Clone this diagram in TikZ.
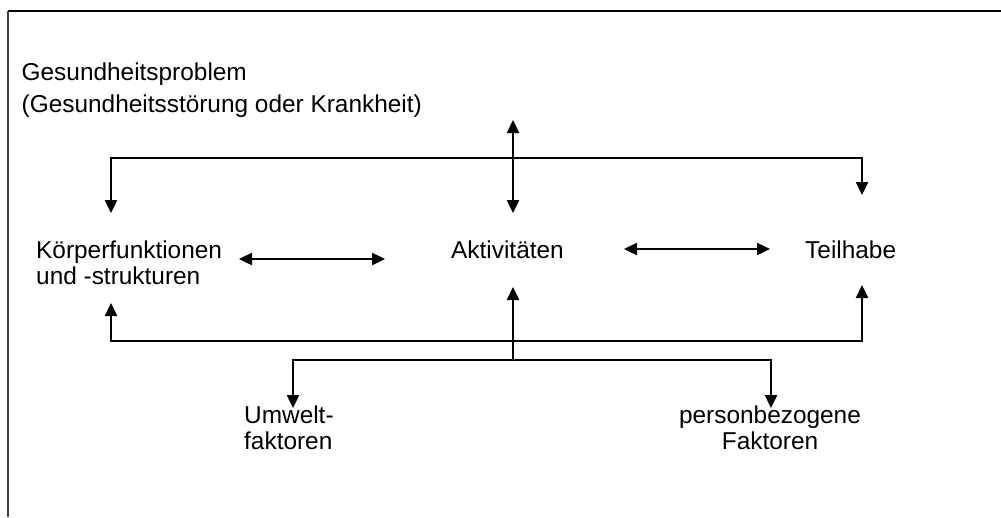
\documentclass[tikz,border=0pt]{standalone}
\usepackage{fontspec}
\setmainfont{Liberation Sans}
\usetikzlibrary{arrows.meta}
\begin{document}
\begin{tikzpicture}[x=1pt,y=-1pt,
  lbl/.style={inner sep=0pt,font=\fontsize{24.4}{26}\selectfont},
  conn/.style={line width=2.4pt},
  arr/.style={conn,-{Triangle[length=13pt,width=12pt]}},
  darr/.style={conn,{Triangle[length=13pt,width=12pt]}-{Triangle[length=13pt,width=12pt]}}]
\useasboundingbox (0,0) rectangle (1001,517);
% frame
\draw[line width=2.8pt,black] (1001,11) -- (8,11);
\draw[line width=2.8pt,black!75] (8,11) -- (8,517);
% texts
\node[lbl,anchor=base west] (gp) at (21.5,80) {Gesundheitsproblem};
\node[lbl,anchor=base west] (gs) at (21.5,112) {(Gesundheitsstörung oder Krankheit)};
\node[lbl,anchor=base west,align=left] (koerper) at (36,284) {Körperfunktionen\\und -strukturen};
\node[lbl,anchor=base west] (akt) at (451,258) {Aktivitäten};
\node[lbl,anchor=base west] (teil) at (805,258) {Teilhabe};
\node[lbl,anchor=base west,align=left] (umwelt) at (244,449) {Umwelt-\\faktoren};
\node[lbl,anchor=base,align=center] (person) at (770,449) {personbezogene\\Faktoren};
% coordinates
\coordinate (gtip) at (513,120);
\coordinate (atop) at (513,213);
\coordinate (tl) at (111,158);
\coordinate (tr) at (862,158);
\coordinate (ktop) at (111,213);
\coordinate (ttop) at (862,195);
\coordinate (bl) at (111,341);
\coordinate (br) at (862,341);
\coordinate (kbot) at (111,303);
\coordinate (tbot) at (862,285);
\coordinate (abot) at (513,287);
\coordinate (junc) at (513,360);
\coordinate (ul) at (293,360);
\coordinate (ur) at (771,360);
\coordinate (utip) at (293,408);
\coordinate (ptip) at (771,408);
\coordinate (ka1) at (239,259);
\coordinate (ka2) at (385,259);
\coordinate (at1) at (624,249);
\coordinate (at2) at (770,249);
% connectors
\draw[darr] (gtip) -- (atop);
\draw[arr] (tr) -- (tl) -- (ktop);
\draw[arr] (tl) -- (tr) -- (ttop);
\draw[darr] (ka1) -- (ka2);
\draw[darr] (at1) -- (at2);
\draw[arr] (br) -- (bl) -- (kbot);
\draw[arr] (bl) -- (br) -- (tbot);
\draw[arr] (junc) -- (abot);
\draw[arr] (ur) -- (ul) -- (utip);
\draw[arr] (ul) -- (ur) -- (ptip);
\end{tikzpicture}
\end{document}
